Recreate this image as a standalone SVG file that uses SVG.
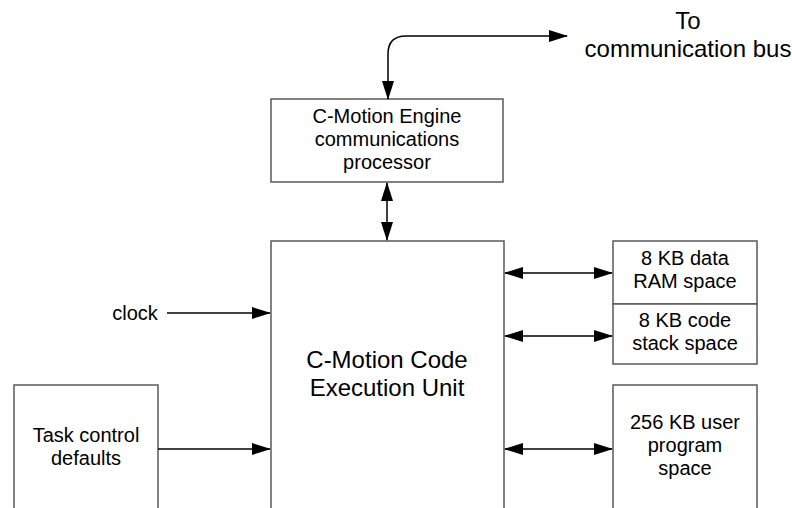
<svg xmlns="http://www.w3.org/2000/svg" width="792" height="508" viewBox="0 0 792 508">
<style>
.box{fill:#fff;stroke:#595959;stroke-width:1.5}
.t{font-family:"Liberation Sans",Arial,sans-serif;fill:#000;text-anchor:middle}
.s{font-size:20px}
.l{font-size:24px}
.c{fill:none;stroke:#000;stroke-width:1.5}
</style>
<defs>
<marker id="ah" markerUnits="userSpaceOnUse" markerWidth="19" markerHeight="12" refX="18" refY="6" orient="auto-start-reverse" viewBox="0 0 19 12">
<path d="M0,0 L19,6 L0,12 z" fill="#000"/>
</marker>
</defs>
<rect width="792" height="508" fill="#fff"/>
<g id="comm-bus-label">
<text class="t l" x="688" y="29">To</text>
<text class="t l" x="688" y="57">communication bus</text>
</g>
<g id="comm-processor">
<rect class="box" x="271" y="99" width="232" height="83"/>
<text class="t s" x="387" y="123">C-Motion Engine</text>
<text class="t s" x="387" y="146">communications</text>
<text class="t s" x="387" y="169">processor</text>
</g>
<g id="execution-unit">
<rect class="box" x="271" y="241" width="233" height="290"/>
<text class="t l" x="387" y="368">C-Motion Code</text>
<text class="t l" x="387" y="396">Execution Unit</text>
</g>
<g id="data-ram">
<rect class="box" x="613" y="241" width="144" height="63"/>
<text class="t s" x="685" y="265">8 KB data</text>
<text class="t s" x="685" y="288">RAM space</text>
</g>
<g id="code-stack">
<rect class="box" x="613" y="304" width="144" height="60"/>
<text class="t s" x="685" y="327">8 KB code</text>
<text class="t s" x="685" y="350">stack space</text>
</g>
<g id="user-program">
<rect class="box" x="613" y="385" width="144" height="140"/>
<text class="t s" x="685" y="429">256 KB user</text>
<text class="t s" x="685" y="452">program</text>
<text class="t s" x="685" y="475">space</text>
</g>
<g id="task-control">
<rect class="box" x="14" y="385" width="144" height="140"/>
<text class="t s" x="86" y="442">Task control</text>
<text class="t s" x="86" y="465">defaults</text>
</g>
<g id="clock-label">
<text class="t s" x="135" y="320">clock</text>
</g>
<g id="connectors">
<path class="c" d="M388,99 L388,54 Q388,36 406,36 L567,36" marker-start="url(#ah)" marker-end="url(#ah)"/>
<path class="c" d="M387,183 L387,240" marker-start="url(#ah)" marker-end="url(#ah)"/>
<path class="c" d="M505,273 L612,273" marker-start="url(#ah)" marker-end="url(#ah)"/>
<path class="c" d="M505,336 L612,336" marker-start="url(#ah)" marker-end="url(#ah)"/>
<path class="c" d="M505,449 L612,449" marker-start="url(#ah)" marker-end="url(#ah)"/>
<path class="c" d="M167,313 L270,313" marker-end="url(#ah)"/>
<path class="c" d="M158,449 L270,449" marker-end="url(#ah)"/>
</g>
</svg>
